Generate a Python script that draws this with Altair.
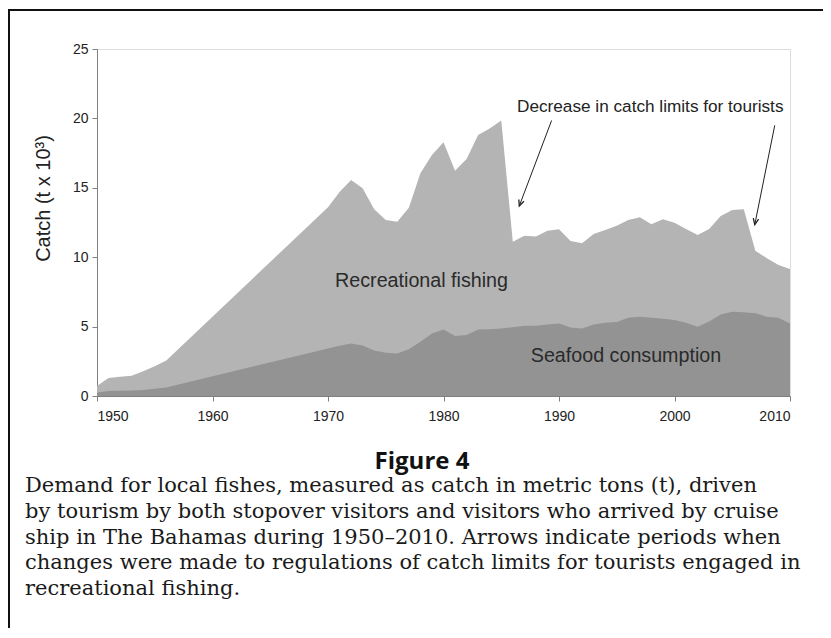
import altair as alt
import pandas as pd

# ---- data ----
years = [1950, 1951, 1952, 1953, 1954, 1955, 1956, 1970, 1971, 1972, 1973, 1974,
         1975, 1976, 1977, 1978, 1979, 1980, 1981, 1982, 1983, 1984, 1985, 1986,
         1987, 1988, 1989, 1990, 1991, 1992, 1993, 1994, 1995, 1996, 1997, 1998,
         1999, 2000, 2001, 2002, 2003, 2004, 2005, 2006, 2007, 2008, 2009, 2010]
# top of the stack (seafood + recreational), t x 10^3
total = [0.72, 1.30, 1.39, 1.46, 1.78, 2.15, 2.56, 13.6, 14.7, 15.56, 14.96, 13.45,
         12.68, 12.56, 13.57, 16.04, 17.36, 18.28, 16.23, 17.07, 18.8, 19.28, 19.84, 11.12,
         11.55, 11.5, 11.91, 12.01, 11.17, 11.0, 11.67, 11.96, 12.27, 12.68, 12.87, 12.37,
         12.73, 12.49, 12.03, 11.6, 12.03, 12.97, 13.4, 13.45, 10.47, 9.92, 9.44, 9.15]
seafood = [0.25, 0.36, 0.38, 0.40, 0.44, 0.52, 0.62, 3.43, 3.62, 3.79, 3.63, 3.27,
           3.12, 3.07, 3.36, 3.91, 4.51, 4.80, 4.32, 4.39, 4.80, 4.81, 4.87, 4.95,
           5.07, 5.07, 5.16, 5.23, 4.93, 4.87, 5.16, 5.28, 5.33, 5.64, 5.71, 5.64,
           5.57, 5.48, 5.28, 4.99, 5.36, 5.88, 6.07, 6.04, 5.96, 5.71, 5.64, 5.23]

x_ticks = [1950, 1960, 1970, 1980, 1990, 2000, 2010]
y_ticks = [0, 5, 10, 15, 20, 25]

area_labels = ["Recreational fishing", "Seafood consumption"]
area_label_x = [1978.1, 1995.8]
area_label_y = [8.25, 2.85]

note_text = "Decrease in catch limits for tourists"
note_x = [1997.9]
note_y = [20.85]

arrow_x1 = [1989.36, 2008.68]
arrow_y1 = [19.85, 19.5]
arrow_x2 = [1986.56, 2006.95]
arrow_y2 = [13.69, 12.35]
arrow_angle = [20.6, 11.3]

fig_title = "Figure 4"
caption_lines = [
    "Demand for local fishes, measured as catch in metric tons (t), driven",
    "by tourism by both stopover visitors and visitors who arrived by cruise",
    "ship in The Bahamas during 1950\u20132010. Arrows indicate periods when",
    "changes were made to regulations of catch limits for tourists engaged in",
    "recreational fishing.",
]

# ---- tables ----
df = pd.DataFrame({"year": years, "total": total, "seafood": seafood})
lab_df = pd.DataFrame({"x": area_label_x, "y": area_label_y, "t": area_labels})
note_df = pd.DataFrame({"x": note_x, "y": note_y, "t": [note_text]})
arr_df = pd.DataFrame({"x1": arrow_x1, "y1": arrow_y1, "x2": arrow_x2, "y2": arrow_y2,
                       "ang": arrow_angle})

W, H = 693, 347
LIGHT = "#b4b4b4"
DARK = "#939393"
FONT = "Liberation Sans"

xscale = alt.Scale(domain=[1950, 2010], nice=False, zero=False)
yscale = alt.Scale(domain=[0, 25], nice=False)

xenc = alt.X("year:Q", scale=xscale,
             axis=alt.Axis(values=x_ticks, format="d", title=None, grid=False,
                           domainColor="#808080", tickColor="#808080", tickSize=5,
                           labelPadding=8, labelFontSize=14, labelFont=FONT,
                           labelColor="#222222"))

total_area = alt.Chart(df).mark_area(color=LIGHT, opacity=1).encode(
    x=xenc,
    y=alt.Y("total:Q", scale=yscale,
            axis=alt.Axis(values=y_ticks, grid=False, title="Catch (t x 10\u00b3)",
                          titleFont=FONT, titleFontSize=20, titleFontWeight="normal",
                          titleColor="#222222", titleAngle=270, titleAlign="center",
                          titleBaseline="middle", titleX=-54, titleY=149,
                          domainColor="#808080", tickColor="#808080", tickSize=5,
                          labelPadding=4, labelFontSize=14, labelFont=FONT,
                          labelColor="#222222")),
)

sea_area = alt.Chart(df).mark_area(color=DARK, opacity=1).encode(
    x=alt.X("year:Q", scale=xscale),
    y=alt.Y("seafood:Q", scale=yscale),
)

labels = alt.Chart(lab_df).mark_text(font=FONT, fontSize=19.7, color="#2a2a2a",
                                     align="center", baseline="middle").encode(
    x=alt.X("x:Q", scale=xscale), y=alt.Y("y:Q", scale=yscale), text="t:N")

note = alt.Chart(note_df).mark_text(font=FONT, fontSize=17.2, color="#222222",
                                    align="center", baseline="middle").encode(
    x=alt.X("x:Q", scale=xscale), y=alt.Y("y:Q", scale=yscale), text="t:N")

arrow_lines = alt.Chart(arr_df).mark_rule(color="#222222", strokeWidth=1).encode(
    x=alt.X("x1:Q", scale=xscale), y=alt.Y("y1:Q", scale=yscale),
    x2="x2:Q", y2="y2:Q")

arrow_heads = alt.Chart(arr_df).mark_point(
    shape="M-0.45,-1L0,0L0.45,-1", filled=False, stroke="#222222",
    strokeWidth=1.3, size=144, opacity=1).encode(
    x=alt.X("x2:Q", scale=xscale), y=alt.Y("y2:Q", scale=yscale),
    angle=alt.Angle("ang:Q", scale=None))

title_mark = alt.Chart(pd.DataFrame({"t": [fig_title]})).mark_text(
    font="Open Sans", fontWeight="bold", fontSize=24, color="#111111",
    align="center", baseline="middle").encode(
    x=alt.value(325), y=alt.value(413), text="t:N")

caption = alt.Chart(pd.DataFrame({"k": [0]})).mark_text(
    font="DejaVu Serif", fontSize=21, color="#1a1a1a", align="left",
    baseline="alphabetic", lineHeight=25.8).encode(
    x=alt.value(-72), y=alt.value(443), text=alt.value(caption_lines))

frame_left = alt.Chart(pd.DataFrame({"k": [0]})).mark_rule(
    color="#111111", strokeWidth=2).encode(
    x=alt.value(-88), y=alt.value(-40), y2=alt.value(600))
frame_top = alt.Chart(pd.DataFrame({"k": [0]})).mark_rule(
    color="#111111", strokeWidth=2).encode(
    x=alt.value(-89), x2=alt.value(740), y=alt.value(-39))

chart = alt.layer(
    total_area, sea_area, labels, note, arrow_lines, arrow_heads,
    title_mark, caption, frame_left, frame_top
).properties(
    width=W, height=H,
    autosize=alt.AutoSizeParams(type="none"),
    padding={"left": 89, "top": 41, "right": 33, "bottom": 232},
).configure_view(stroke=None).configure(background="white")

chart.save("out.html", embed_options={"renderer": "svg", "actions": False})
